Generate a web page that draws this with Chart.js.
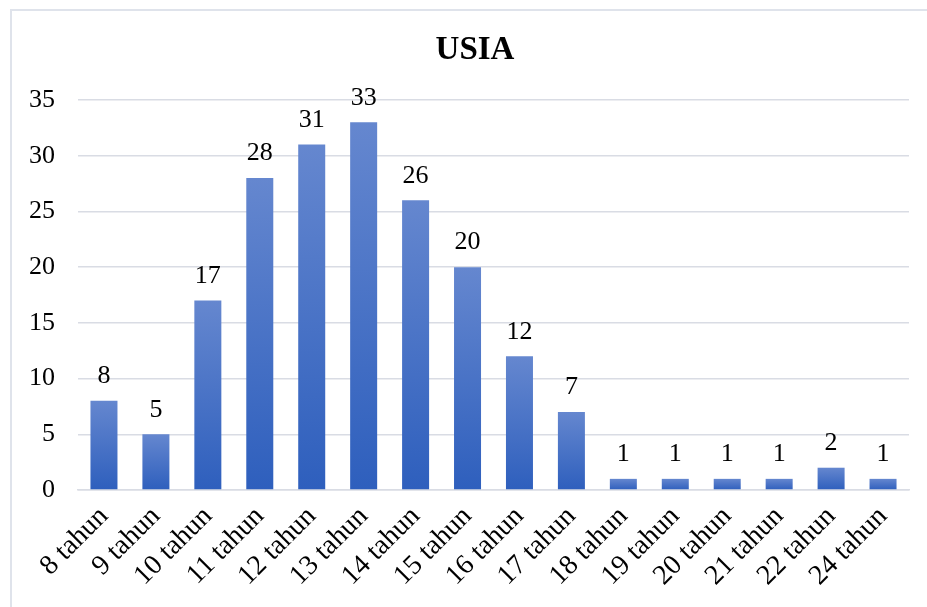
<!DOCTYPE html>
<html>
<head>
<meta charset="utf-8">
<script src="https://cdn.jsdelivr.net/npm/chart.js@4/dist/chart.umd.min.js"></script>
<style>
  html, body { margin: 0; padding: 0; background: #fff; }
  #wrap { position: relative; width: 927px; height: 607px; overflow: hidden; }
  #frame {
    position: absolute; left: 10px; top: 9px; width: 960px; height: 640px;
    border-left: 2px solid #dfe3eb; border-top: 2px solid #dfe3eb;
  }
  canvas { position: absolute; left: 0; top: 0; }
</style>
</head>
<body>
<div id="wrap">
  <div id="frame"></div>
  <canvas id="usiaChart" width="927" height="607"></canvas>
</div>
<script>
const labels = ["8 tahun", "9 tahun", "10 tahun", "11 tahun", "12 tahun", "13 tahun", "14 tahun", "15 tahun",
  "16 tahun", "17 tahun", "18 tahun", "19 tahun", "20 tahun", "21 tahun", "22 tahun", "24 tahun"];
const jumlah = [8, 5, 17, 28, 31, 33, 26, 20, 12, 7, 1, 1, 1, 1, 2, 1];
const yTicks = [0, 5, 10, 15, 20, 25, 30, 35];
const judul = "USIA";

const serif = "'Liberation Serif', 'Times New Roman', serif";

// lighter at the top of each bar, darker at its base
function barFill(ctx) {
  const chart = ctx.chart;
  if (!chart.chartArea || ctx.type !== "data") return "#3565c0";
  const y = chart.scales.y;
  const top = y.getPixelForValue(ctx.raw);
  const base = y.getPixelForValue(0);
  const g = chart.ctx.createLinearGradient(0, top, 0, base);
  g.addColorStop(0, "#6587cf");
  g.addColorStop(1, "#2e5fbd");
  return g;
}

// value printed above every bar, plus the heading centred on the frame
const valueLabels = {
  id: "valueLabels",
  afterDatasetsDraw(chart) {
    const c = chart.ctx;
    const meta = chart.getDatasetMeta(0);
    c.save();
    c.font = "26px " + serif;
    c.fillStyle = "#000";
    c.textAlign = "center";
    c.textBaseline = "middle";
    meta.data.forEach((bar, i) => {
      c.fillText(String(jumlah[i]), bar.x, bar.y - 24.5);
    });
    c.font = "bold 33px " + serif;
    c.fillText(judul, 475, 50);
    c.restore();
  }
};

window.onload = () => {
  const ctx = document.getElementById("usiaChart").getContext("2d");
  new Chart(ctx, {
    type: "bar",
    data: {
      labels: labels,
      datasets: [{
        label: judul,
        data: jumlah,
        backgroundColor: barFill,
        borderWidth: 0,
        categoryPercentage: 1,
        barPercentage: 0.52
      }]
    },
    options: {
      responsive: false,
      animation: false,
      layout: { padding: { left: 0, right: 18, top: 100, bottom: 0 } },
      plugins: {
        legend: { display: false },
        tooltip: { enabled: false },
        title: { display: false }
      },
      scales: {
        x: {
          grid: { display: false, drawTicks: false },
          border: { display: true, color: "#d9dce4", width: 1.5 },
          ticks: {
            color: "#000",
            font: { family: serif, size: 28 },
            minRotation: 45,
            maxRotation: 45,
            autoSkip: false,
            padding: 10
          },
          afterFit: scale => { scale.height = 117; }
        },
        y: {
          min: 0,
          max: 35,
          afterBuildTicks: scale => { scale.ticks = yTicks.map(v => ({ value: v })); },
          grid: { color: "#d9dce4", lineWidth: 1.5, drawTicks: false },
          border: { display: false },
          ticks: {
            color: "#000",
            font: { family: serif, size: 26 },
            padding: 23
          },
          afterFit: scale => { scale.width = 78; }
        }
      }
    },
    plugins: [valueLabels]
  });
};
</script>
</body>
</html>
